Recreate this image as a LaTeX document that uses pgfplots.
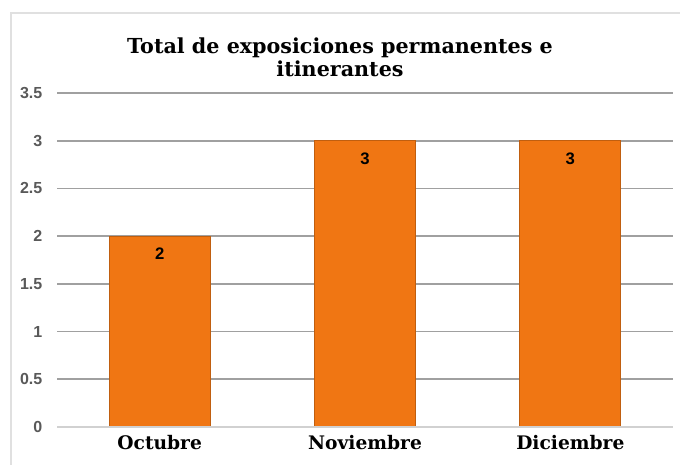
\documentclass[border=0pt]{standalone}
\usepackage{fontspec}
\setmainfont{DejaVu Serif}
\newfontfamily\sansf{Liberation Sans}
\usepackage{pgfplots}
\pgfplotsset{compat=1.18}
\definecolor{barorange}{HTML}{F07613}
\definecolor{ticktext}{HTML}{595959}
\definecolor{gridc}{HTML}{A0A0A0}
\begin{document}
\begin{tikzpicture}
\path[use as bounding box] (0,0) rectangle (510pt,348pt);
\draw[color=black!12, line width=1pt] (8.25pt,-5pt) -- (8.25pt,338.25pt) -- (520pt,338.25pt);
\node[align=center, font=\bfseries\fontsize{15.5}{17.5}\selectfont] at (255pt,305pt) {Total de exposiciones permanentes e\\itinerantes};
\begin{axis}[
  at={(42.75pt,27.75pt)}, anchor=south west,
  scale only axis, width=462pt, height=250.5pt,
  xmin=-0.5, xmax=2.5, ymin=0, ymax=3.5,
  ytick={0,0.5,1,1.5,2,2.5,3,3.5},
  yticklabels={0,0.5,1,1.5,2,2.5,3,3.5},
  xtick={0,1,2},
  xticklabels={Octubre,Noviembre,Diciembre},
  axis line style={draw=none},
  major tick length=0pt,
  ymajorgrids,
  grid style={color=gridc, line width=1.3pt},
  /pgf/number format/assume math mode=true,
  yticklabel style={font=\sansf\bfseries\fontsize{12}{14}\selectfont, text=ticktext, xshift=-7.5pt},
  xticklabel style={font=\bfseries\fontsize{14}{16}\selectfont, text=black, yshift=-3pt},
  ybar,
  bar width=75.75pt,
  nodes near coords,
  every node near coord/.append style={font=\sansf\bfseries\fontsize{12.5}{14}\selectfont, text=black, anchor=center, yshift=-13.5pt},
]
\addplot[fill=barorange, draw=barorange!80!black, line width=0.6pt] coordinates {(0,2) (1,3) (2,3)};
\draw[color=black!18, line width=1pt] (axis cs:-0.5,0) -- (axis cs:2.5,0);
\end{axis}
\end{tikzpicture}
\end{document}
